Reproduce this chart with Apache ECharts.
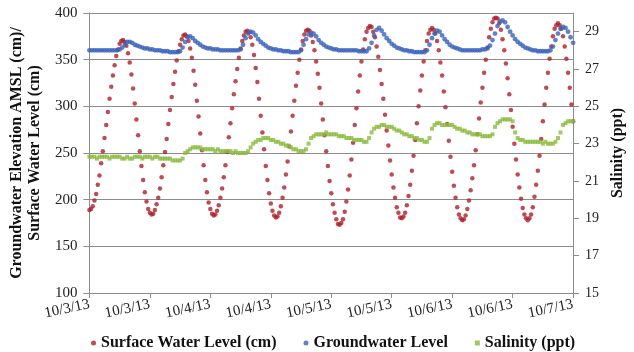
<!DOCTYPE html>
<html>
<head>
<meta charset="utf-8">
<script src="https://cdn.jsdelivr.net/npm/echarts@6/dist/echarts.min.js"></script>
<style>
  html, body { margin: 0; padding: 0; background: #fff; }
  #chart { width: 634px; height: 352px; }
</style>
</head>
<body>
<div id="chart"></div>
<script>
// x axis: hours since 10/3/13 00:00, one tick every 12 h
const xTickLabels = ['10/3/13', '10/3/13', '10/4/13', '10/4/13', '10/5/13', '10/5/13', '10/6/13', '10/6/13', '10/7/13'];
const salinityTicks = [15, 17, 19, 21, 23, 25, 27, 29];

// surface water level (cm), one reading every 20 min
const swStepHours = 1 / 3;
const surfaceWater = [
  189,190,193,199,206,216,226,239,252,266,280,294,308,321,333,344,354,361,367,370,371,
  369,365,357,347,334,319,303,286,269,252,236,221,208,198,190,186,184,
  185,189,195,202,212,224,237,251,265,281,296,310,324,337,349,359,366,372,376,377,
  375,370,362,352,338,323,306,289,271,253,237,221,208,197,190,185,183,
  184,188,194,202,212,224,237,251,267,282,298,313,327,340,352,362,370,376,380,381,
  379,374,366,355,341,326,308,290,272,254,236,221,207,196,188,183,181,
  182,186,193,202,213,227,241,257,273,290,306,322,336,350,361,370,377,381,382,
  381,376,369,360,348,335,320,303,286,269,252,236,220,207,195,186,179,174,173,
  175,179,187,198,211,226,243,261,280,298,316,333,348,361,372,380,384,386,
  385,380,374,364,353,339,324,308,291,274,258,242,227,213,202,192,186,181,180,
  182,186,194,204,216,231,247,264,282,300,317,333,348,360,370,378,382,384,
  382,378,370,360,347,333,316,299,281,263,246,230,215,202,192,184,180,178,
  179,183,190,199,210,223,237,253,270,287,304,320,336,350,363,374,383,390,394,395,
  394,389,382,372,360,346,330,313,296,278,260,243,227,213,201,191,184,180,178,
  180,184,192,203,216,231,247,265,284,302,320,336,351,364,375,383,387,389,
  387,383,375,364,351,336,320,302,284
];

// groundwater level (cm), one reading every 30 min
const gwStepHours = 0.5;
const groundwater = [
  360,360,360,360,360,360,360,360,360,360,360,360,
  361,363,366,369,369,368,366,365,364,363,362,362,
  361,361,360,360,360,359,359,359,358,358,358,358,
  359,363,369,374,375,373,370,368,366,364,363,362,
  362,361,361,361,360,360,360,360,360,360,360,360,
  361,366,373,378,380,379,376,372,369,367,365,363,
  362,361,361,360,360,359,359,359,358,358,358,358,
  360,366,372,377,379,378,375,371,368,366,364,363,
  362,361,361,360,360,360,360,360,360,360,360,359,
  359,359,359,362,368,376,382,384,381,377,373,370,
  367,365,363,362,361,360,360,359,359,358,358,358,
  358,358,360,366,373,378,381,380,376,372,369,366,
  364,363,362,361,360,360,360,360,360,360,360,360,
  361,361,362,365,371,378,386,391,392,390,385,380,
  376,372,369,367,365,363,362,361,360,360,359,359,
  359,359,359,360,364,371,378,383,385,384,380,374,
  368
];

// salinity (ppt), one reading every 30 min
const salStepHours = 0.5;
const salinity = [
  22.3,22.3,22.3,22.2,22.3,22.3,22.3,22.3,22.2,22.3,22.3,22.3,
  22.3,22.2,22.2,22.3,22.2,22.2,22.3,22.3,22.3,22.2,22.3,22.3,
  22.3,22.2,22.3,22.3,22.2,22.2,22.2,22.2,22.2,22.1,22.1,22.1,
  22.1,22.2,22.5,22.6,22.7,22.8,22.8,22.8,22.8,22.7,22.7,22.7,
  22.7,22.7,22.6,22.7,22.6,22.6,22.6,22.6,22.6,22.5,22.6,22.5,
  22.5,22.5,22.5,22.6,22.8,23.0,23.1,23.2,23.2,23.3,23.3,23.3,
  23.2,23.2,23.1,23.1,23.0,23.0,22.9,22.9,22.8,22.7,22.7,22.6,
  22.6,22.6,22.7,23.0,23.3,23.4,23.5,23.5,23.5,23.5,23.6,23.5,
  23.5,23.5,23.5,23.4,23.4,23.4,23.3,23.3,23.3,23.2,23.2,23.2,
  23.2,23.1,23.1,23.3,23.6,23.8,23.9,23.9,24.0,24.0,23.9,23.9,
  23.9,23.8,23.7,23.7,23.6,23.5,23.5,23.4,23.4,23.3,23.3,23.2,
  23.2,23.1,23.1,23.3,23.8,24.0,24.1,24.1,24.0,24.0,24.0,24.0,
  24.0,23.9,23.8,23.8,23.7,23.7,23.6,23.6,23.5,23.5,23.5,23.5,
  23.4,23.4,23.4,23.4,23.5,23.9,24.1,24.2,24.3,24.3,24.3,24.3,
  24.2,23.6,23.3,23.2,23.2,23.1,23.1,23.1,23.1,23.1,23.1,23.1,
  23.0,23.1,23.0,23.0,23.0,23.1,23.3,23.6,24.0,24.1,24.2,24.2,
  24.2
];

const toPoints = (values, step) => values.map((v, i) => [i * step, v]);

const FONT = '"Liberation Serif", "DejaVu Serif", serif';
const AXIS_GREY = '#8c8c8c';

const chart = echarts.init(document.getElementById('chart'));
chart.setOption({
  animation: false,
  textStyle: { fontFamily: FONT },
  grid: { left: 89, right: 58, top: 13, bottom: 59 },
  legend: {
    left: 86, top: 330,
    itemWidth: 5, itemHeight: 5, itemGap: 27,
    textStyle: { fontFamily: FONT, fontSize: 16, fontWeight: 'bold', color: '#111' },
    data: [
      { name: 'Surface Water Level (cm)', icon: 'circle' },
      { name: 'Groundwater Level', icon: 'circle' },
      { name: 'Salinity (ppt)', icon: 'rect' }
    ]
  },
  xAxis: {
    type: 'value', min: 0, max: 96, interval: 12,
    axisLine: { lineStyle: { color: AXIS_GREY } },
    axisTick: { length: 5, lineStyle: { color: AXIS_GREY } },
    splitLine: { show: false },
    axisLabel: {
      rotate: 12, margin: 11, fontSize: 15, color: '#222', fontFamily: FONT,
      formatter: v => xTickLabels[Math.round(v / 12)]
    }
  },
  yAxis: [
    {
      type: 'value', min: 100, max: 400, interval: 50,
      name: 'Groundwater Elevation AMSL (cm)/\nSurface Water Level (cm)',
      nameLocation: 'middle', nameRotate: 90, nameGap: 37,
      nameTextStyle: { fontFamily: FONT, fontSize: 16, fontWeight: 'bold', lineHeight: 18, color: '#111' },
      axisLine: { show: true, lineStyle: { color: AXIS_GREY } },
      axisTick: { show: true, length: 6, lineStyle: { color: AXIS_GREY } },
      axisLabel: { fontSize: 15, margin: 12, color: '#222', fontFamily: FONT },
      splitLine: { show: true, lineStyle: { color: AXIS_GREY } }
    },
    {
      type: 'value', position: 'right', min: 15, max: 30,
      name: 'Salinity (ppt)',
      nameLocation: 'middle', nameRotate: 90, nameGap: 35,
      nameTextStyle: { fontFamily: FONT, fontSize: 16, fontWeight: 'bold', color: '#111' },
      axisLine: { show: true, lineStyle: { color: AXIS_GREY } },
      axisTick: { show: true, length: 6, customValues: salinityTicks, lineStyle: { color: AXIS_GREY } },
      axisLabel: { customValues: salinityTicks, fontSize: 14, margin: 12, color: '#222', fontFamily: FONT },
      splitLine: { show: false }
    }
  ],
  series: [
    {
      name: 'Surface Water Level (cm)', type: 'scatter', yAxisIndex: 0,
      symbol: 'circle', symbolSize: 4.5,
      itemStyle: { color: '#ad2129' },
      data: toPoints(surfaceWater, swStepHours)
    },
    {
      name: 'Groundwater Level', type: 'scatter', yAxisIndex: 0,
      symbol: 'circle', symbolSize: 4.8,
      itemStyle: { color: '#3a63bd' },
      data: toPoints(groundwater, gwStepHours)
    },
    {
      name: 'Salinity (ppt)', type: 'scatter', yAxisIndex: 1,
      symbol: 'rect', symbolSize: 4,
      itemStyle: { color: '#8bbb3e' },
      data: toPoints(salinity, salStepHours)
    }
  ]
});
</script>
</body>
</html>
